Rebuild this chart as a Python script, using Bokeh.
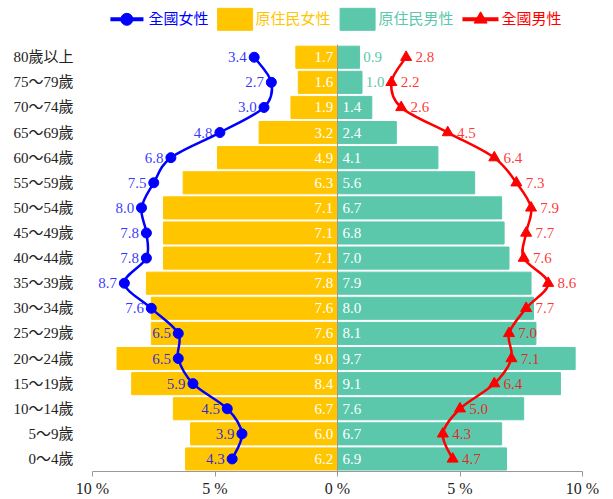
import numpy as np
from bokeh.plotting import figure
from bokeh.models import Range1d, FixedTicker, ColumnDataSource
from bokeh.core.properties import value
from bokeh.embed import file_html
from bokeh.resources import INLINE

# ---- data (top row first) ----
age_groups = ["80歲以上", "75～79歲", "70～74歲", "65～69歲", "60～64歲", "55～59歲",
              "50～54歲", "45～49歲", "40～44歲", "35～39歲", "30～34歲", "25～29歲",
              "20～24歲", "15～19歲", "10～14歲", "5～9歲", "0～4歲"]
nat_female = [3.4, 2.7, 3.0, 4.8, 6.8, 7.5, 8.0, 7.8, 7.8, 8.7, 7.6, 6.5, 6.5, 5.9, 4.5, 3.9, 4.3]
ind_female = [1.7, 1.6, 1.9, 3.2, 4.9, 6.3, 7.1, 7.1, 7.1, 7.8, 7.6, 7.6, 9.0, 8.4, 6.7, 6.0, 6.2]
ind_male = [0.9, 1.0, 1.4, 2.4, 4.1, 5.6, 6.7, 6.8, 7.0, 7.9, 8.0, 8.1, 9.7, 9.1, 7.6, 6.7, 6.9]
nat_male = [2.8, 2.2, 2.6, 4.5, 6.4, 7.3, 7.9, 7.7, 7.6, 8.6, 7.7, 7.0, 7.1, 6.4, 5.0, 4.3, 4.7]
x_ticks = [-10, -5, 0, 5, 10]
x_tick_labels = ["10 %", "5 %", "0 %", "5 %", "10 %"]
series_names = ["全國女性", "原住民女性", "原住民男性", "全國男性"]

YELLOW = "#FFC600"
TEAL = "#5BC8AC"
BLUE = "#0000FF"
RED = "#FF0000"
FONT = "Liberation Serif, Noto Sans CJK TC"

n = len(age_groups)
ys = [n - 1 - i for i in range(n)]

p = figure(width=613, height=499, x_range=Range1d(-10, 10), y_range=Range1d(-0.5, 18.18),
           output_backend="svg", toolbar_location=None,
           min_border_left=92, min_border_right=31, min_border_top=2, min_border_bottom=0)
p.grid.visible = False
p.outline_line_color = None
p.background_fill_color = "white"
p.border_fill_color = "white"

# axes
p.xaxis.ticker = FixedTicker(ticks=x_ticks)
p.xaxis.major_label_overrides = {t: l for t, l in zip(x_ticks, x_tick_labels)}
p.xaxis.axis_line_color = "#999999"
p.xaxis.major_tick_line_color = "#999999"
p.xaxis.major_tick_out = 5
p.xaxis.major_tick_in = 0
p.xaxis.minor_tick_line_color = None
p.xaxis.major_label_text_font = FONT
p.xaxis.major_label_text_font_size = "16px"
p.xaxis.major_label_text_color = "#222222"
p.xaxis.major_label_standoff = 3

p.yaxis.ticker = FixedTicker(ticks=ys)
p.yaxis.major_label_overrides = {y: l for y, l in zip(ys, age_groups)}
p.yaxis.axis_line_color = None
p.yaxis.major_tick_line_color = None
p.yaxis.minor_tick_line_color = None
p.yaxis.major_label_text_font = FONT
p.yaxis.major_label_text_font_size = "15px"
p.yaxis.major_label_text_color = "#222222"
p.yaxis.major_label_standoff = 13

# bars
p.hbar(y=ys, left=[-v for v in ind_female], right=0, height=0.88, color=YELLOW)
p.hbar(y=ys, left=0, right=ind_male, height=0.88, color=TEAL)
p.segment(x0=[0], y0=[-0.5], x1=[0], y1=[16.5], line_color="#999999", line_width=1)

# bar labels
fsrc = ColumnDataSource(dict(x=[-0.17] * n, y=ys, t=[f"{v:.1f}" for v in ind_female]))
p.text(x="x", y="y", text="t", source=fsrc, text_align="right", text_baseline="middle",
       text_color="white", text_font=value(FONT), text_font_size="15px")
mx = [0.2 if v >= 1.2 else v + 0.15 for v in ind_male]
mc = ["white" if v >= 1.2 else TEAL for v in ind_male]
msrc = ColumnDataSource(dict(x=mx, y=ys, t=[f"{v:.1f}" for v in ind_male], c=mc))
p.text(x="x", y="y", text="t", text_color="c", source=msrc, text_align="left",
       text_baseline="middle", text_font=value(FONT), text_font_size="15px")


def smooth(xs, yv):
    P = np.column_stack([xs, yv]).astype(float)
    m = len(P)
    T = np.zeros_like(P)
    for i in range(m):
        a = P[max(i - 1, 0)]
        b = P[min(i + 1, m - 1)]
        T[i] = (b - a) / 2.0
    x0, y0, x1, y1, cx0, cy0, cx1, cy1 = ([] for _ in range(8))
    for i in range(m - 1):
        p0, p1 = P[i], P[i + 1]
        c0 = p0 + T[i] / 3.0
        c1 = p1 - T[i + 1] / 3.0
        x0.append(p0[0]); y0.append(p0[1]); x1.append(p1[0]); y1.append(p1[1])
        cx0.append(c0[0]); cy0.append(c0[1]); cx1.append(c1[0]); cy1.append(c1[1])
    return dict(x0=x0, y0=y0, x1=x1, y1=y1, cx0=cx0, cy0=cy0, cx1=cx1, cy1=cy1)


nf_x = [-v for v in nat_female]
p.bezier(source=ColumnDataSource(smooth(nf_x, ys)), x0="x0", y0="y0", x1="x1", y1="y1",
         cx0="cx0", cy0="cy0", cx1="cx1", cy1="cy1", line_color=BLUE, line_width=2.5)
p.scatter(x=nf_x, y=ys, marker="circle", size=10, color=BLUE)
p.bezier(source=ColumnDataSource(smooth(nat_male, ys)), x0="x0", y0="y0", x1="x1", y1="y1",
         cx0="cx0", cy0="cy0", cx1="cx1", cy1="cy1", line_color=RED, line_width=2.5)
p.scatter(x=nat_male, y=ys, marker="triangle", size=11, color=RED)

# line labels
p.text(x=[x - 0.3 for x in nf_x], y=ys, text=[f"{v:.1f}" for v in nat_female],
       text_align="right", text_baseline="middle", text_color=BLUE, text_alpha=0.8,
       text_font=value(FONT), text_font_size="15px")
p.text(x=[v + 0.38 for v in nat_male], y=ys, text=[f"{v:.1f}" for v in nat_male],
       text_align="left", text_baseline="middle", text_color=RED, text_alpha=0.8,
       text_font=value(FONT), text_font_size="15px")

# legend (manual)
ly = 17.51
p.segment(x0=[-9.27], y0=[ly], x1=[-7.92], y1=[ly], line_color=BLUE, line_width=4)
p.scatter(x=[-8.6], y=[ly], marker="circle", size=12, color=BLUE)
p.text(x=[-7.71], y=[ly], text=[series_names[0]], text_color=BLUE, text_baseline="middle",
       text_font=value(FONT), text_font_size="15px")
p.rect(x=[-4.18], y=[ly], width=35, height=22, width_units="screen", height_units="screen",
       color=YELLOW)
p.text(x=[-3.35], y=[ly], text=[series_names[1]], text_color=YELLOW, text_baseline="middle",
       text_font=value(FONT), text_font_size="15px")
p.rect(x=[0.82], y=[ly], width=35, height=22, width_units="screen", height_units="screen",
       color=TEAL)
p.text(x=[1.67], y=[ly], text=[series_names[2]], text_color=TEAL, text_baseline="middle",
       text_font=value(FONT), text_font_size="15px")
p.segment(x0=[5.10], y0=[ly], x1=[6.57], y1=[ly], line_color=RED, line_width=4)
p.scatter(x=[5.84], y=[ly], marker="triangle", size=13, color=RED)
p.text(x=[6.69], y=[ly], text=[series_names[3]], text_color=RED, text_baseline="middle",
       text_font=value(FONT), text_font_size="15px")

open("out.html", "w").write(file_html(p, INLINE))
